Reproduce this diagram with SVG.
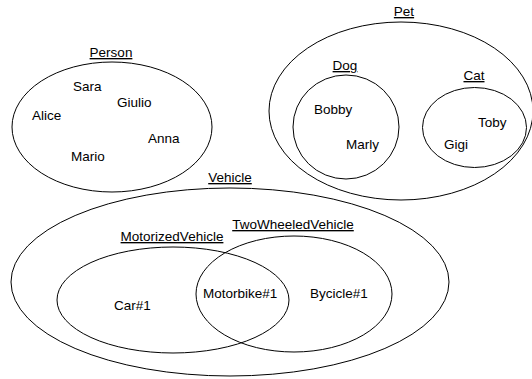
<svg xmlns="http://www.w3.org/2000/svg" width="532" height="379" viewBox="0 0 532 379">
<style>
.s{fill:none;stroke:#000;stroke-width:1}
text{font-family:"Liberation Sans",Arial,sans-serif;font-size:13.5px;fill:#000}
.l{text-anchor:middle;text-decoration:underline}
</style>
<rect width="532" height="379" fill="#fff"/>
<g id="person">
<ellipse class="s" cx="112" cy="127" rx="100" ry="65"/>
<text class="l" x="111" y="57">Person</text>
<text x="73" y="91">Sara</text>
<text x="117" y="107">Giulio</text>
<text x="32" y="120">Alice</text>
<text x="148" y="143">Anna</text>
<text x="71" y="161">Mario</text>
</g>
<g id="pet">
<ellipse class="s" cx="401" cy="111" rx="132" ry="89"/>
<text class="l" x="404" y="16">Pet</text>
</g>
<g id="dog">
<ellipse class="s" cx="346" cy="127" rx="53" ry="52"/>
<text class="l" x="345" y="70">Dog</text>
<text x="314" y="114">Bobby</text>
<text x="346" y="149">Marly</text>
</g>
<g id="cat">
<ellipse class="s" cx="474.5" cy="127.5" rx="52" ry="40"/>
<text class="l" x="474" y="80">Cat</text>
<text x="478" y="127">Toby</text>
<text x="444" y="149">Gigi</text>
</g>
<g id="vehicle">
<ellipse class="s" cx="230" cy="282" rx="219" ry="94"/>
<text class="l" x="230" y="182">Vehicle</text>
</g>
<g id="motorized">
<ellipse class="s" cx="173" cy="300" rx="116" ry="53"/>
<text class="l" x="172" y="241">MotorizedVehicle</text>
<text x="114" y="310">Car#1</text>
</g>
<g id="twowheeled">
<ellipse class="s" cx="294" cy="294" rx="98" ry="58"/>
<text class="l" x="293" y="229">TwoWheeledVehicle</text>
<text x="310" y="298">Bycicle#1</text>
</g>
<g id="motorbike">
<text x="203" y="298">Motorbike#1</text>
</g>
<g id="connectors"/>
</svg>
